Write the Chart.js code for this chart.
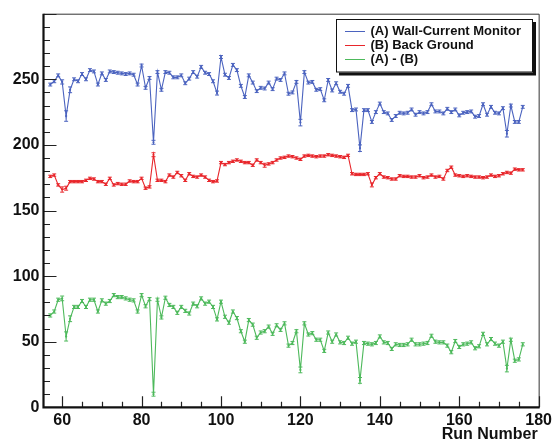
<!DOCTYPE html>
<html>
<head>
<meta charset="utf-8">
<script src="https://cdn.jsdelivr.net/npm/chart.js@4/dist/chart.umd.min.js"></script>
<style>
  html, body { margin: 0; padding: 0; background: #fff; }
  canvas { display: block; }
</style>
</head>
<body>
<canvas id="c" width="556" height="439"></canvas>
<script>
// Run numbers
const runs = [
  57, 58, 59, 60, 61, 62, 63, 64, 65, 66,
  67, 68, 69, 70, 71, 72, 73, 74, 75, 76,
  77, 78, 79, 80, 81, 82, 83, 84, 85, 86,
  87, 88, 89, 90, 91, 92, 93, 94, 95, 96,
  97, 98, 99, 100, 101, 102, 103, 104, 105, 106,
  107, 108, 109, 110, 111, 112, 113, 114, 115, 116,
  117, 118, 119, 120, 121, 122, 123, 124, 125, 126,
  127, 128, 129, 130, 131, 132, 133, 134, 135, 136,
  137, 138, 139, 140, 141, 142, 143, 144, 145, 146,
  147, 148, 149, 150, 151, 152, 153, 154, 155, 156,
  157, 158, 159, 160, 161, 162, 163, 164, 165, 166,
  167, 168, 169, 170, 171, 172, 173, 174, 175, 176
];

// (A) Wall-Current Monitor
const wallCurrent = [
  246, 248.5, 253, 248, 222, 242, 250, 248.5, 254, 250,
  257, 256, 246, 254.5, 249.5, 256, 255.5, 255, 254.5, 254,
  254.5, 253.5, 246, 260.5, 243.5, 251, 202, 255.5, 242, 255.5,
  255, 251.5, 251.5, 253, 247, 250.5, 255.5, 252, 259.5, 255,
  254, 248.5, 239.5, 267, 253.5, 251, 261, 257, 245, 236.5,
  253, 247.5, 241, 243.5, 243, 247.5, 242.5, 250.5, 249.5, 254.5,
  239, 240, 248, 217, 255.5, 247.5, 248, 242, 242.5, 234,
  249.5, 241.5, 247, 240.5, 239, 245, 226.5, 227, 197.5, 226.5,
  226.5, 217.5, 225, 231.5, 225, 224, 219, 222, 224.5, 224,
  224.5, 227, 223, 225, 224, 225, 231, 225.5, 225.5, 224,
  227.5, 225, 227, 222.5, 224.5, 225, 225.5, 221.5, 222, 231,
  223, 229, 224.5, 224, 228, 208.5, 230, 217.5, 217.5, 229
];

// (B) Back Ground
const backGround = [
  176, 177, 169.5, 166, 167, 172, 172, 172, 172, 173,
  174.5, 174, 172, 172, 170, 174.5, 169.5, 170.5, 170, 170,
  172.5, 172, 172, 174.5, 167, 168, 192.5, 173, 173, 172,
  177, 175.5, 179, 176.5, 173, 178, 176, 175.5, 177, 175.5,
  173, 172, 172.5, 186.5, 185, 186.5, 187.5, 188.5, 187.5, 186.5,
  186.5, 184.5, 188.5, 186.5, 184.5, 185.5, 186.5, 188.5, 190, 190.5,
  191.5, 191, 190, 189, 191.5, 192, 191.5, 191, 191.5, 191.5,
  192.5, 192, 191.5, 191, 190.5, 192, 178, 177.5, 177.5, 177.5,
  178, 169.5, 175, 178, 175.5, 175, 174, 174, 176.5, 176,
  176, 175.5, 175.5, 176.5, 175, 175.5, 177, 175.5, 176, 174,
  180.5, 183, 177, 176.5, 176, 176.5, 176, 175.5, 175.5, 175,
  175.5, 177, 176, 176.5, 178, 179, 178.5, 181.5, 181, 181
];

// (A) - (B)
const difference = [
  70, 73, 82, 83, 54, 67.5, 76.5, 76.5, 81, 76.5,
  82, 82, 73, 81.5, 79, 81, 85.5, 84, 84, 83,
  82, 81.5, 73, 85.5, 77, 82.5, 10, 82, 68.5, 83.5,
  78, 76.5, 72, 76.5, 73.5, 71.5, 79, 77, 83, 79,
  80.5, 76.5, 67, 80.5, 69, 64.5, 73, 68, 58, 50,
  66.5, 63, 53, 57, 58, 61.5, 56, 62.5, 59, 64,
  47, 49, 58, 28.5, 64, 55.5, 56.5, 51.5, 51.5, 43,
  57, 50, 55.5, 49.5, 49, 53, 48.5, 50, 20.5, 49,
  48.5, 48, 49, 54, 49.5, 49, 44.5, 48, 47.5, 47.5,
  48, 51.5, 48, 48, 48.5, 49, 54.5, 50, 49.5, 49.5,
  47, 42, 50.5, 46, 48, 48.5, 49.5, 45, 46.5, 56,
  48, 52, 48.5, 47, 50, 29.5, 51.5, 35.5, 36.5, 48
];

// Error bar half-heights: a typical value per series, plus the larger ones by run
const wallCurrentErr = { typical: 1.1, 60: 1.6, 61: 4, 62: 2.2, 83: 1.5, 99: 1.5, 120: 2.5, 135: 2.5, 172: 2.5 };
const backGroundErr  = { typical: 0.9, 60: 2, 61: 1.5, 83: 1.5, 111: 1.5, 138: 1.5 };
const differenceErr  = { typical: 1.2, 60: 1.8, 61: 3.5, 62: 2.2, 83: 1.5, 120: 2.2, 135: 2.2, 172: 2.5 };

// Axis ticks
const xTickLabels = [60, 80, 100, 120, 140, 160, 180];
const yTickLabels = [0, 50, 100, 150, 200, 250];

const seriesNames = ['(A) Wall-Current Monitor', '(B) Back Ground', '(A) - (B)'];
const seriesColors = ['#4b63bf', '#e8262b', '#4db95b'];

const FONT = '"Liberation Sans", Arial, Helvetica, sans-serif';

function points(values) {
  return runs.map((r, i) => ({ x: r, y: values[i] }));
}
function errFor(table, run) {
  return table[run] !== undefined ? table[run] : table.typical;
}

const seriesErrors = [wallCurrentErr, backGroundErr, differenceErr];

const errorBarPlugin = {
  id: 'errorBars',
  afterDatasetsDraw(chart) {
    const { ctx, chartArea: a, scales: { y } } = chart;
    ctx.save();
    ctx.beginPath();
    ctx.rect(a.left, a.top, a.right - a.left, a.bottom - a.top);
    ctx.clip();
    chart.data.datasets.forEach((ds, di) => {
      const meta = chart.getDatasetMeta(di);
      ctx.strokeStyle = ds.borderColor;
      ctx.lineWidth = 1;
      meta.data.forEach((el, i) => {
        const p = ds.data[i];
        const e = errFor(seriesErrors[di], p.x);
        const yt = y.getPixelForValue(p.y + e);
        const yb = y.getPixelForValue(p.y - e);
        const cx = el.x;
        ctx.beginPath();
        ctx.moveTo(cx, yt); ctx.lineTo(cx, yb);
        ctx.moveTo(cx - 2, yt); ctx.lineTo(cx + 2, yt);
        ctx.moveTo(cx - 2, yb); ctx.lineTo(cx + 2, yb);
        ctx.stroke();
      });
    });
    ctx.restore();
  }
};

const frameAxesPlugin = {
  id: 'frameAxes',
  afterDraw(chart) {
    const { ctx, chartArea: a, scales: { x, y } } = chart;
    ctx.save();
    // thin frame on top and right
    ctx.strokeStyle = '#333';
    ctx.lineWidth = 1;
    ctx.beginPath();
    ctx.moveTo(a.left, a.top + 0.5);
    ctx.lineTo(a.right + 0.5, a.top + 0.5);
    ctx.lineTo(a.right + 0.5, a.bottom);
    ctx.stroke();

    // inward tick marks
    ctx.strokeStyle = '#222';
    ctx.lineWidth = 1.2;
    ctx.beginPath();
    for (let v = 0; v <= 300; v += 10) {
      const py = Math.round(y.getPixelForValue(v)) + 0.5;
      const len = v % 50 === 0 ? 13 : 6.5;
      ctx.moveTo(a.left, py); ctx.lineTo(a.left + len, py);
    }
    for (let v = 60; v <= 180; v += 5) {
      const px = Math.round(x.getPixelForValue(v)) + 0.5;
      const len = v % 20 === 0 ? 11 : 5.5;
      ctx.moveTo(px, a.bottom); ctx.lineTo(px, a.bottom - len);
    }
    ctx.stroke();

    // heavy axis lines on left and bottom
    ctx.strokeStyle = '#111';
    ctx.lineWidth = 2.2;
    ctx.beginPath();
    ctx.moveTo(a.left, a.top);
    ctx.lineTo(a.left, a.bottom);
    ctx.lineTo(a.right + 1, a.bottom);
    ctx.stroke();

    // axis title
    ctx.fillStyle = '#111';
    ctx.font = 'bold 16px ' + FONT;
    ctx.textAlign = 'right';
    ctx.textBaseline = 'alphabetic';
    ctx.fillText('Run Number', a.right - 1, 438.5);
    ctx.restore();
  }
};

const legendBoxPlugin = {
  id: 'legendBox',
  afterDraw(chart) {
    const { ctx } = chart;
    const bx = 336, by = 19, bw = 197, bh = 53.5;
    ctx.save();
    ctx.fillStyle = '#111';
    ctx.fillRect(bx + 3, by + 3, bw, bh);
    ctx.fillStyle = '#fff';
    ctx.fillRect(bx, by, bw, bh);
    ctx.strokeStyle = '#111';
    ctx.lineWidth = 1;
    ctx.strokeRect(bx + 0.5, by + 0.5, bw - 1, bh - 1);
    ctx.font = 'bold 13px ' + FONT;
    ctx.textBaseline = 'middle';
    ctx.textAlign = 'left';
    chart.data.datasets.forEach((ds, i) => {
      const ry = by + 11.7 + i * 14.3;
      ctx.strokeStyle = ds.borderColor;
      ctx.lineWidth = 1;
      ctx.beginPath();
      ctx.moveTo(bx + 9, Math.round(ry) + 0.5);
      ctx.lineTo(bx + 29, Math.round(ry) + 0.5);
      ctx.stroke();
      ctx.fillStyle = '#111';
      ctx.fillText(ds.label, bx + 34.5, ry + 0.5);
    });
    ctx.restore();
  }
};

const datasetsFrom = [wallCurrent, backGround, difference];

new Chart(document.getElementById('c'), {
  type: 'line',
  data: {
    datasets: datasetsFrom.map((vals, i) => ({
      label: seriesNames[i],
      data: points(vals),
      borderColor: seriesColors[i],
      backgroundColor: seriesColors[i],
      borderWidth: 1.1,
      pointRadius: 1.1,
      pointBorderWidth: 0,
      pointBackgroundColor: seriesColors[i],
      tension: 0,
      fill: false
    }))
  },
  options: {
    responsive: false,
    animation: false,
    events: [],
    layout: { padding: { left: 0, top: 13.7, right: 13.7, bottom: 0 } },
    scales: {
      x: {
        type: 'linear',
        min: 55.3,
        max: 180,
        grid: { display: false, drawTicks: false },
        border: { display: false },
        afterBuildTicks: s => { s.ticks = xTickLabels.map(v => ({ value: v })); },
        afterFit: s => { s.height = 31.7; },
        ticks: {
          padding: 4,
          maxRotation: 0,
          autoSkip: false,
          color: '#111',
          font: { family: FONT, size: 16, weight: 'bold' },
          callback: v => String(v)
        }
      },
      y: {
        type: 'linear',
        min: 0,
        max: 300,
        grid: { display: false, drawTicks: false },
        border: { display: false },
        afterBuildTicks: s => { s.ticks = yTickLabels.map(v => ({ value: v })); },
        afterFit: s => { s.width = 43.5; },
        ticks: {
          padding: 4,
          autoSkip: false,
          color: '#111',
          font: { family: FONT, size: 16, weight: 'bold' },
          callback: v => String(v)
        }
      }
    },
    plugins: {
      legend: { display: false },
      tooltip: { enabled: false }
    }
  },
  plugins: [errorBarPlugin, frameAxesPlugin, legendBoxPlugin]
});
</script>
</body>
</html>
